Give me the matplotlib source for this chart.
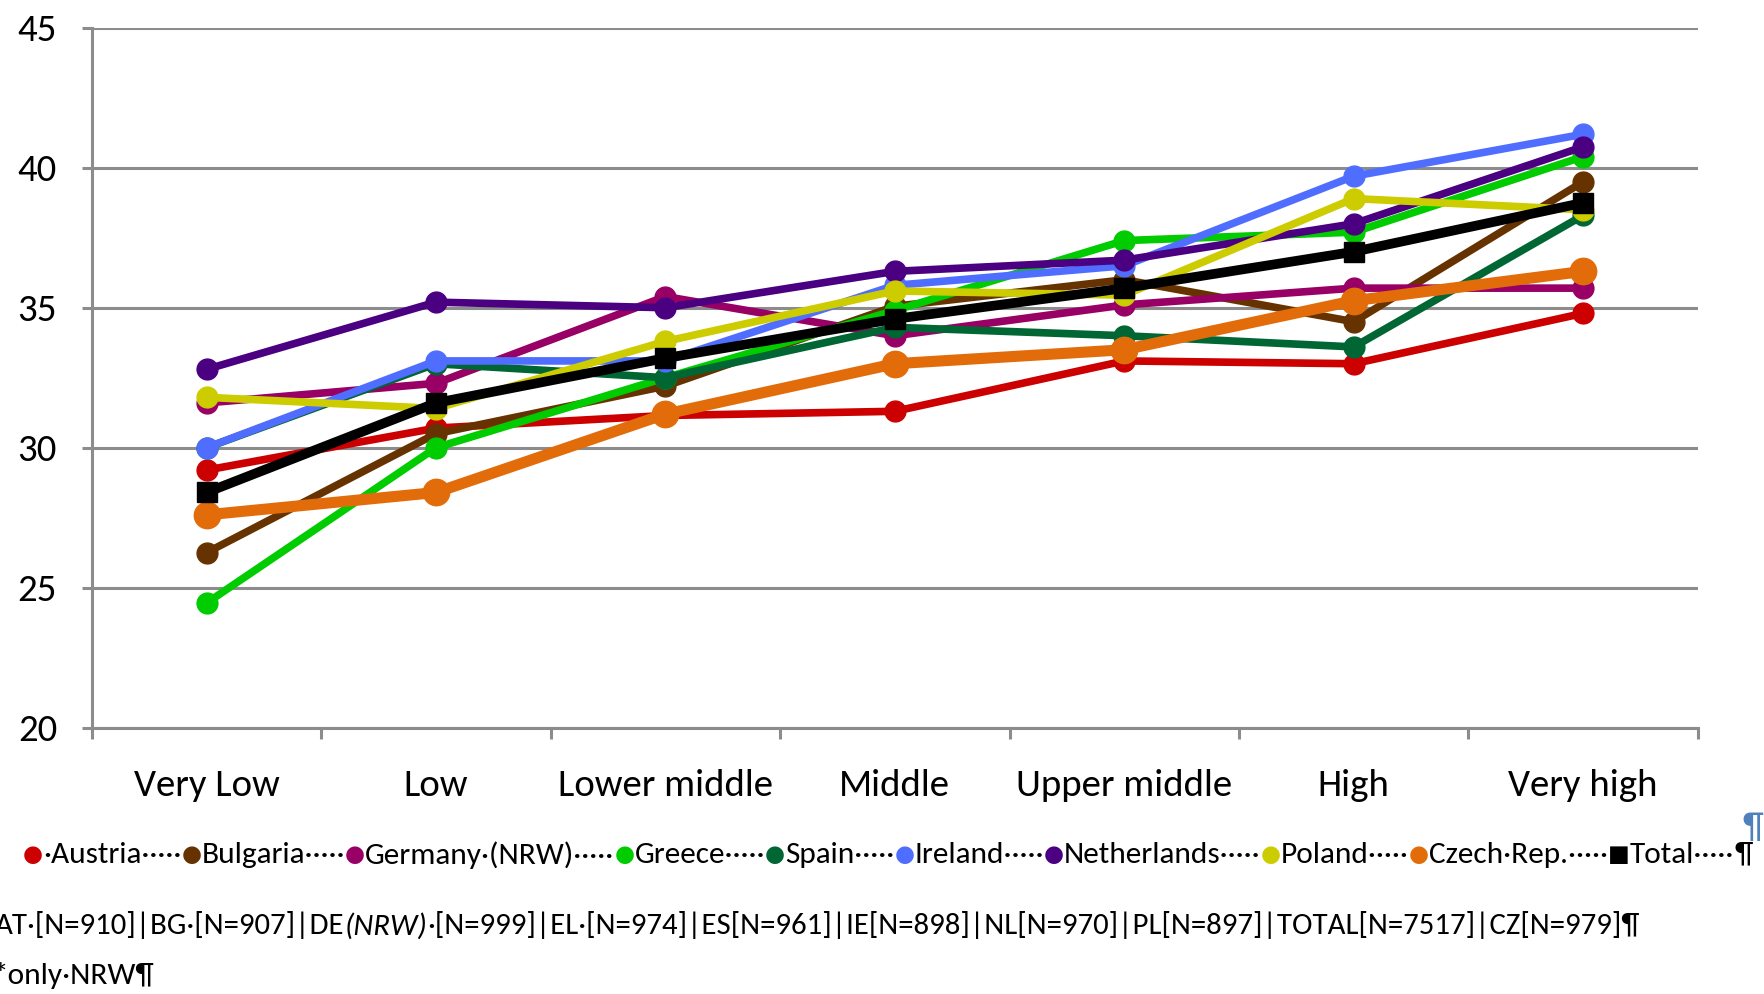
import matplotlib
matplotlib.use("Agg")
import matplotlib.pyplot as plt
import numpy as np

plt.rcParams['font.family'] = ['Carlito', 'Liberation Sans Narrow', 'DejaVu Sans']

###########################################
# data
###########################################
categories = ['Very Low', 'Low', 'Lower middle', 'Middle', 'Upper middle', 'High', 'Very high']

austria     = [29.2, 30.7, 31.15, 31.3, 33.1, 33.0, 34.8]
bulgaria    = [26.25, 30.5, 32.2, 35.05, 36.0, 34.5, 39.5]
germany     = [31.6, 32.3, 35.4, 34.0, 35.1, 35.7, 35.7]
greece      = [24.45, 30.0, 32.5, 34.9, 37.4, 37.7, 40.4]
spain       = [30.0, 33.0, 32.5, 34.3, 34.0, 33.6, 38.3]
ireland     = [30.0, 33.1, 33.1, 35.8, 36.5, 39.7, 41.2]
netherlands = [32.8, 35.2, 35.0, 36.3, 36.7, 38.0, 40.75]
poland      = [31.8, 31.4, 33.8, 35.6, 35.45, 38.9, 38.5]
czech       = [27.6, 28.4, 31.2, 33.0, 33.5, 35.25, 36.3]
total       = [28.4, 31.6, 33.2, 34.6, 35.7, 37.0, 38.75]

series_names = ['Austria', 'Bulgaria', 'Germany\u00b7(NRW)', 'Greece', 'Spain',
                'Ireland', 'Netherlands', 'Poland', 'Czech\u00b7Rep.', 'Total']
series_data = [austria, bulgaria, germany, greece, spain,
               ireland, netherlands, poland, czech, total]
series_colors = ['#CC0000', '#663300', '#990066', '#00CC00', '#006633',
                 '#4F6EFF', '#4B0082', '#CCCC00', '#E36C0A', '#000000']

y_ticks = [20, 25, 30, 35, 40, 45]

###########################################
# figure
###########################################
fig = plt.figure(figsize=(17.65, 9.94), dpi=100)
ax = fig.add_axes([0.052, 0.268, 0.910, 0.704])

x = np.arange(len(categories))
for name, vals, col in zip(series_names, series_data, series_colors):
    if name == 'Total':
        ax.plot(x, vals, color=col, marker='s', linewidth=7, markersize=15, zorder=5)
    elif name.startswith('Czech'):
        ax.plot(x, vals, color=col, marker='o', linewidth=8, markersize=19, zorder=4)
    else:
        ax.plot(x, vals, color=col, marker='o', linewidth=5.5, markersize=15, zorder=3)

ax.set_xlim(-0.5, len(categories) - 0.5)
ax.set_ylim(20, 45)
ax.set_yticks(y_ticks)
ax.set_yticklabels([str(v) for v in y_ticks], fontsize=28)
ax.yaxis.grid(True, color='#8c8c8c', linewidth=2.2)
ax.set_axisbelow(True)

# category labels between boundary ticks
ax.set_xticks(x)
ax.set_xticklabels(categories, fontsize=28)
ax.tick_params(axis='x', length=0, pad=30)
ax.set_xticks(np.arange(-0.5, len(categories)), minor=True)
ax.tick_params(axis='x', which='minor', length=8, width=2.2, color='#8c8c8c', direction='out')
ax.tick_params(axis='y', length=7, width=2.2, color='#8c8c8c', pad=18)

for s in ['top', 'right']:
    ax.spines[s].set_visible(False)
for s in ['left', 'bottom']:
    ax.spines[s].set_color('#8c8c8c')
    ax.spines[s].set_linewidth(2.2)

###########################################
# legend line, chained text pieces (Word-style)
###########################################
leg_fs = 22.6
dots = '\u00b7' * 5
last = None
for i, (name, col) in enumerate(zip(series_names, series_colors)):
    mark = '\u25a0' if name == 'Total' else '\u25cf'
    label = ('\u00b7' + name if i == 0 else name) + dots
    if last is None:
        m = fig.text(0.013, 0.140, mark, color=col, fontsize=leg_fs - 6, va='center', ha='left',
                     family=['DejaVu Sans'])
    else:
        m = ax.annotate(mark, xy=(1, 0.5), xycoords=last, color=col, fontsize=leg_fs - 6,
                        va='center', ha='left', family=['DejaVu Sans'], annotation_clip=False)
    last = ax.annotate(label, xy=(1, 0.5), xycoords=m, fontsize=leg_fs,
                       va='center', ha='left', annotation_clip=False)
ax.annotate('\u00b6', xy=(1, 0.5), xycoords=last, fontsize=leg_fs,
            va='center', ha='left', annotation_clip=False)
fig.text(0.987, 0.168, '\u00b6', color='#4F81BD', fontsize=leg_fs + 3, va='center', ha='left')

# sample sizes line
parts = [('AT\u00b7[N=910]|BG\u00b7[N=907]|DE', 'normal'),
         ('(NRW)', 'italic'),
         ('\u00b7[N=999]|EL\u00b7[N=974]|ES[N=961]|IE[N=898]|NL[N=970]|PL[N=897]|TOTAL[N=7517]|CZ[N=979]\u00b6', 'normal')]
prev = fig.text(-0.003, 0.069, parts[0][0], fontsize=22.2, va='center', ha='left')
for txt, sty in parts[1:]:
    prev = ax.annotate(txt, xy=(1, 0), xycoords=prev, fontsize=22.2, style=sty,
                       va='bottom', ha='left', annotation_clip=False)

fig.text(-0.004, 0.019, '*only\u00b7NRW\u00b6', fontsize=leg_fs, va='center', ha='left')

fig.savefig('out.png', dpi=100)
